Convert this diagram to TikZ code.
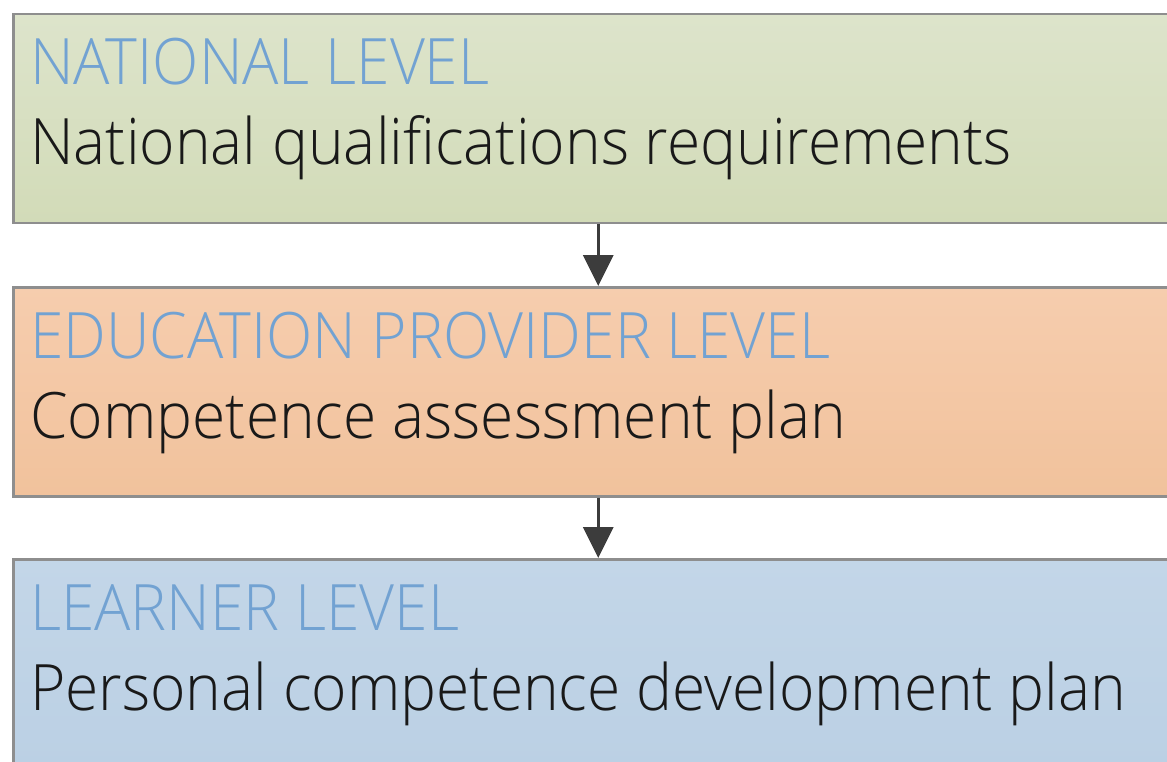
\documentclass[tikz,border=0pt]{standalone}
\usepackage{fontspec}
\setmainfont{Open Sans}[UprightFont=* Light, FakeStretch=0.945]
\usetikzlibrary{arrows.meta}
\definecolor{greentop}{HTML}{DDE4CB}
\definecolor{greenbot}{HTML}{D2DBB8}
\definecolor{orangetop}{HTML}{F6CDAE}
\definecolor{orangebot}{HTML}{F1C29C}
\definecolor{bluetop}{HTML}{C3D6E8}
\definecolor{bluebot}{HTML}{BBD0E4}
\definecolor{boxgray}{HTML}{8E8E8E}
\definecolor{titleblue}{HTML}{72A2D2}
\definecolor{arrowgray}{HTML}{3C3C3C}
\begin{document}
\begin{tikzpicture}[x=1pt, y=1pt]
        \tikzstyle{lvl}=[draw=boxgray, line width=2.5pt, minimum width=1170pt, minimum height=209pt, anchor=north west, inner sep=0pt]
        \tikzstyle{title}=[anchor=base west, inner sep=0pt, text=titleblue, font=\fontsize{64}{70}\selectfont]
        \tikzstyle{body}=[anchor=base west, inner sep=0pt, text=black!90, font=\fontsize{64}{70}\selectfont]
        \useasboundingbox (0,0) rectangle (1167,-762);
        \clip (0,0) rectangle (1167,-762);

        \node[lvl, top color=greentop, bottom color=greenbot] (NAT) at (12,-13) {};
        \node[lvl, top color=orangetop, bottom color=orangebot] (EDU) at (12,-286) {};
        \node[lvl, top color=bluetop, bottom color=bluebot] (LRN) at (12,-558) {};

        \node[title] (NATt) at (30,-85) {NATIONAL LEVEL};
        \node[body] (NATb) at (30,-165) {National qualifications requirements};
        \node[title] (EDUt) at (30,-358) {EDUCATION PROVIDER LEVEL};
        \node[body] (EDUb) at (30,-438) {Competence assessment plan};
        \node[title] (LRNt) at (30,-630) {LEARNER LEVEL};
        \node[body] (LRNb) at (30,-710) {Personal competence development plan};

        \tikzstyle{late}=[-{Triangle[width=30pt,length=31pt]}, line width=3.5pt, draw=arrowgray, fill=arrowgray]
        \draw[late] (NAT)--(EDU);
        \draw[late] (EDU)--(LRN);
\end{tikzpicture}
\end{document}
